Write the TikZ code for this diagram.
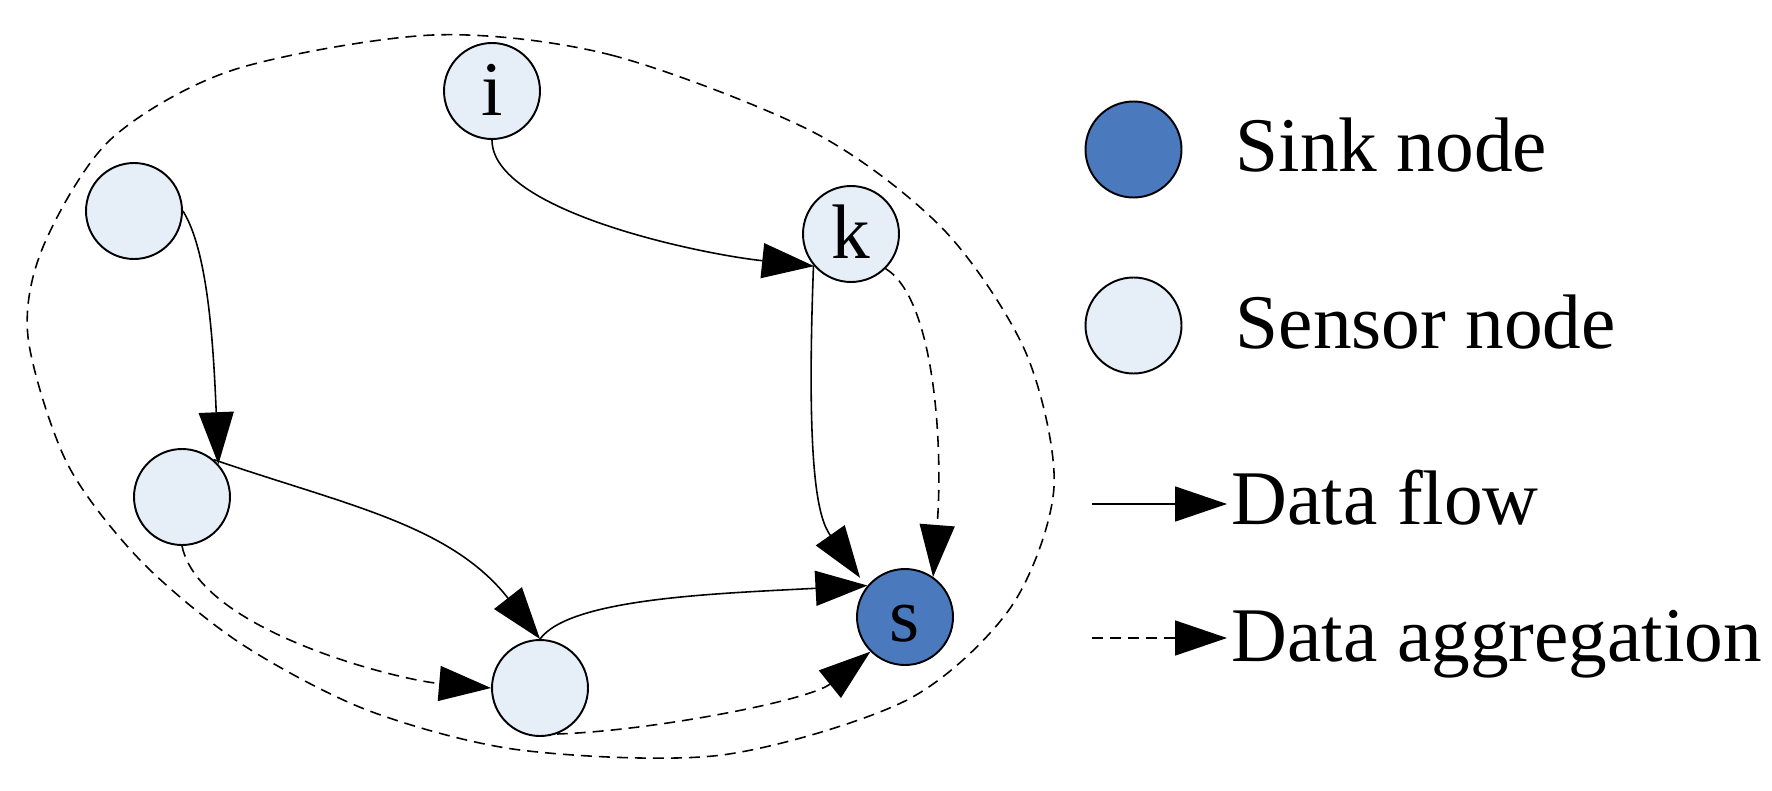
\documentclass[tikz,border=0pt]{standalone}
\usepackage{fontspec}
\setmainfont{Liberation Serif}
\usetikzlibrary{arrows.meta}
\definecolor{sinkblue}{HTML}{4A79BE}
\definecolor{sensorblue}{HTML}{E6EEF8}

\begin{document}
\begin{tikzpicture}[every node/.style={font=\fontsize{22}{26}\selectfont},
    sensor/.style={draw,circle,line width=0.55pt,fill=sensorblue,minimum size=9.6mm,inner sep=0pt,text height=4.8mm,text depth=0pt},
    sink/.style={sensor,fill=sinkblue},
    flow/.style={-{Triangle[length=5.2mm,width=3.5mm]},line width=0.45pt},
    aggr/.style={flow,dash pattern=on 1.1mm off 0.7mm}]
      \useasboundingbox (0,0) rectangle (17.72,7.90);
      % cluster boundary
      \draw[line width=0.45pt,dash pattern=on 1.1mm off 0.7mm] plot[smooth cycle] coordinates {(4.33,7.55) (6.11,7.35) (8.15,6.57) (9.44,5.60) (10.26,4.37) (10.54,3.03) (10.11,1.83) (9.07,0.90) (7.22,0.35) (5.20,0.40) (3.67,0.80) (2.40,1.47) (1.40,2.30) (0.67,3.27) (0.28,4.53) (0.43,5.43) (1.10,6.50) (2.33,7.20)};
      % network
      \node[sensor] (i) at (4.92,6.99) {i};
      \node[sensor] (k) at (8.51,5.56) {k};
      \node[sensor] (sensA) at (1.34,5.79) {};
      \node[sensor] (sensB) at (1.82,2.93) {};
      \node[sensor] (sensC) at (5.40,1.02) {};
      \node[sink] (s) at (9.05,1.73) {s};
      \draw[flow] (sensA.east) .. controls +(0.25,-0.4) and +(-0.05,1.2) .. (sensB.42);
      \draw[flow] (sensB.50) .. controls +(1.3,-0.45) and +(-0.9,1.15) .. (sensC.north);
      \draw[flow] (sensC.north) .. controls +(0.3,0.41) and +(-1.5,-0.08) .. (s.140);
      \draw[flow] (i.south) .. controls +(0,-0.71) and +(-1.14,0.12) .. (k.221);
      \draw[flow,shorten >=1.1mm] (k.220) .. controls +(-0.08,-2.14) and +(-0.47,0.67) .. (s.142);
      \draw[aggr] (k.-45) .. controls +(0.5,-0.31) and +(0.10,1.27) .. (s.55);
      \draw[aggr] (sensB.south) .. controls +(0.18,-0.85) and +(-0.92,0.08) .. (sensC.west);
      \draw[aggr] (sensC.-70) .. controls +(0.94,0.03) and +(-0.61,-0.49) .. (s.225);
      % legend
      \node[sink] (legsink) at (11.335,6.405) {};
      \node[sensor] (legsensor) at (11.335,4.645) {};
      \node[anchor=base west,inner sep=0pt] (sinktxt) at (12.35,6.19) {Sink node};
      \node[anchor=base west,inner sep=0pt] (sensortxt) at (12.35,4.42) {Sensor node};
      \coordinate (flowA) at (10.92,2.86);
      \coordinate (flowB) at (12.27,2.86);
      \draw[flow] (flowA) -- (flowB);
      \node[anchor=base west,inner sep=0pt] (flowtxt) at (12.31,2.66) {Data flow};
      \coordinate (aggA) at (10.92,1.52);
      \coordinate (aggB) at (12.27,1.52);
      \draw[aggr] (aggA) -- (aggB);
      \node[anchor=base west,inner sep=0pt] (aggtxt) at (12.31,1.29) {Data aggregation};
    \end{tikzpicture}
\end{document}
